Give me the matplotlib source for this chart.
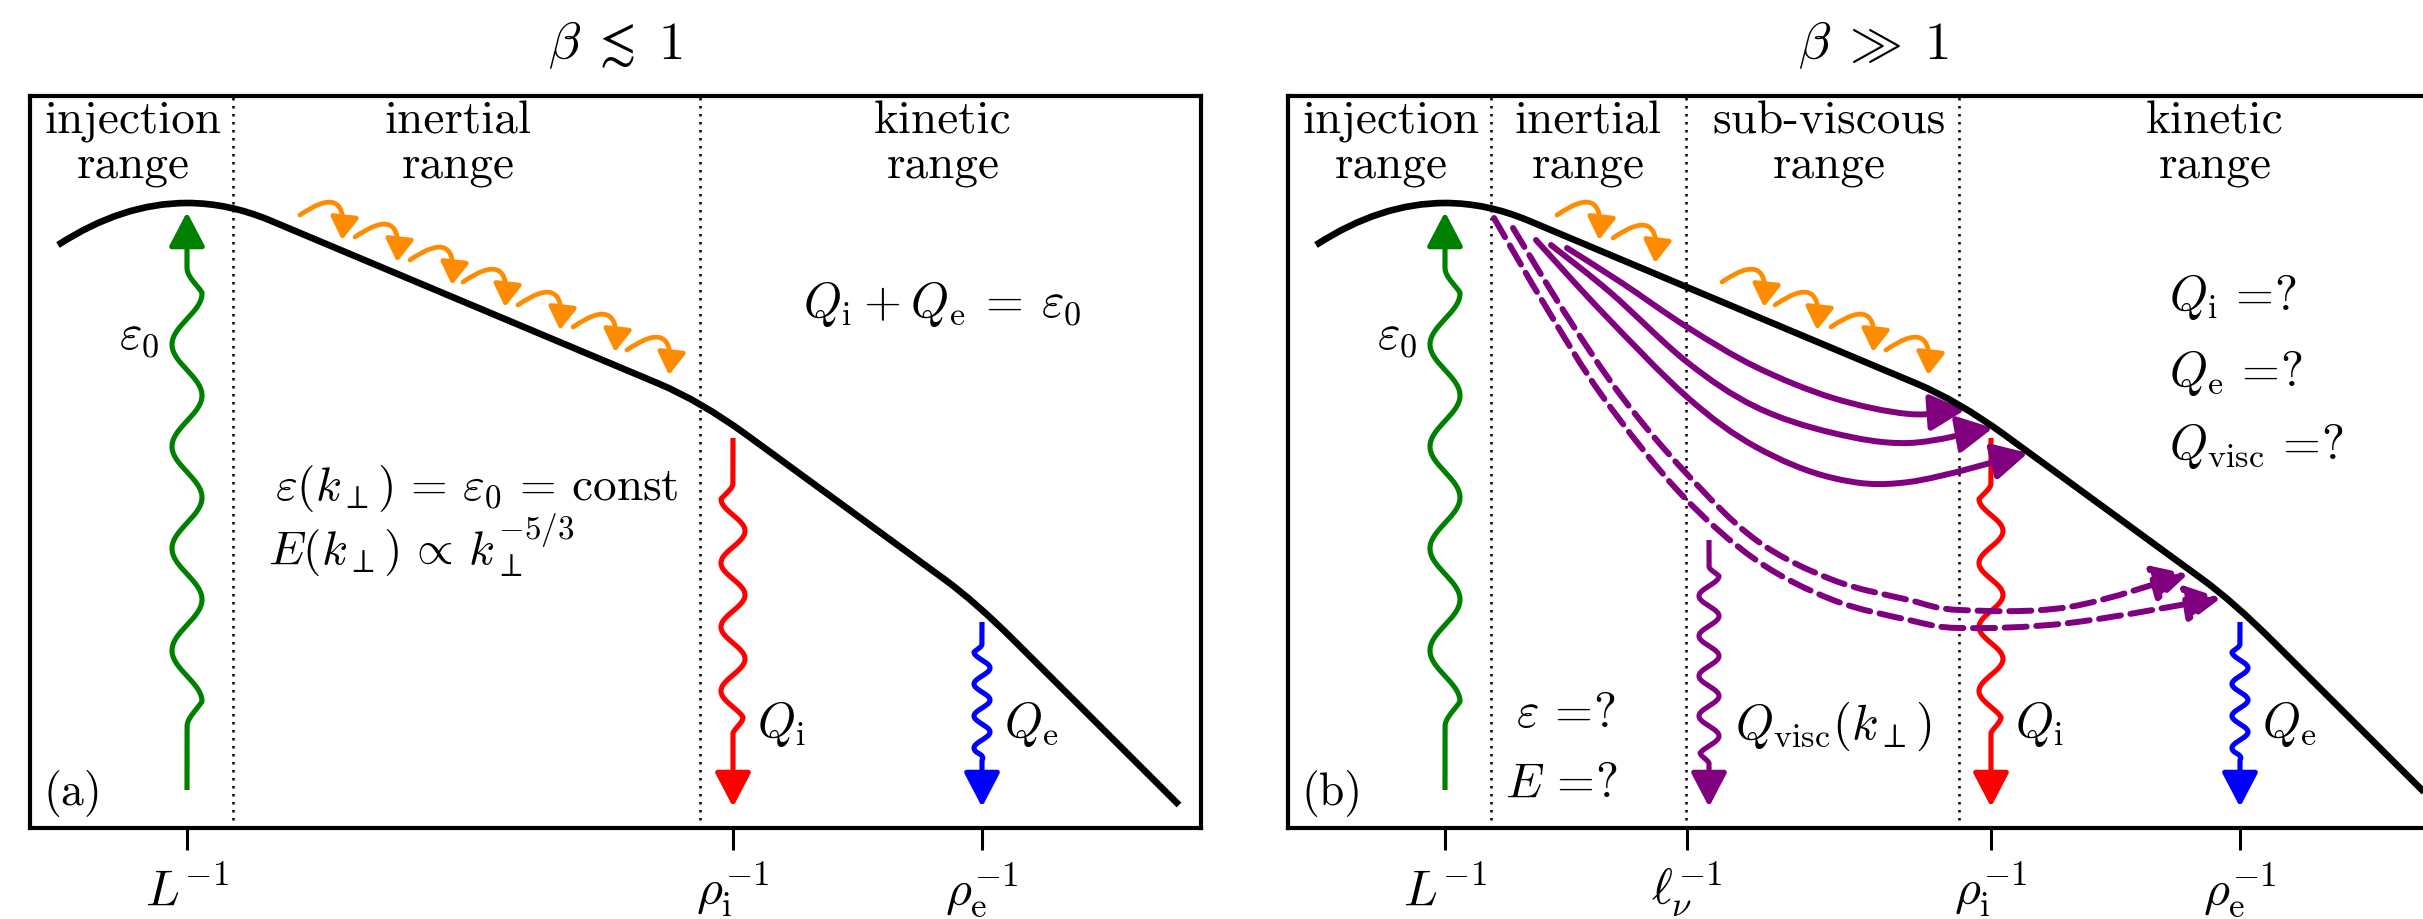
import numpy as np
import matplotlib.pyplot as plt
from matplotlib.path import Path
from matplotlib.patches import FancyArrowPatch, PathPatch

plt.rcParams['mathtext.fontset'] = 'cm'
plt.rcParams['font.family'] = 'serif'
plt.rcParams['font.serif'] = ['cmr10', 'DejaVu Serif']
plt.rcParams['axes.unicode_minus'] = False

# panel size in sketch units (one unit ~ one output pixel), y grows downwards
W, H = 1171, 732

# wavenumber scales marked on the k axis
ticks_a = [157, 703, 952]
labels_a = [r'$L^{-1}$', r'$\rho_\mathrm{i}^{-1}$', r'$\rho_\mathrm{e}^{-1}$']
ticks_b = [157, 399, 703, 952]
labels_b = [r'$L^{-1}$', r'$\ell_\nu^{-1}$', r'$\rho_\mathrm{i}^{-1}$', r'$\rho_\mathrm{e}^{-1}$']

# range boundaries
bounds_a = [203, 670]
bounds_b = [203, 398, 671]

# range names
headers_a = ['injection\nrange', 'inertial\nrange', 'kinetic\nrange']
headers_a_x = [103, 428, 913]
headers_b = ['injection\nrange', 'inertial\nrange', 'sub-viscous\nrange', 'kinetic\nrange']
headers_b_x = [103.5, 300, 541.5, 927]

# sketched spectrum E(k): knots of a bezier path
M, C3, L2 = Path.MOVETO, Path.CURVE3, Path.LINETO
spec_x = [28, 92.5, 157, 198.5, 240, 630, 670.5, 715, 915, 945.7, 985, 1149]
spec_y = [149, 107, 107, 107, 124.4, 288.2, 305.4, 337.7, 483.7, 506.1, 545.4, 709]
spec_codes = [M, C3, C3, C3, C3, L2, C3, C3, L2, C3, C3, L2]

# cascade arrows (start points)
casc_a_x = [270, 325, 380, 433, 488, 543, 597]
casc_a_y = [119, 141, 164, 186, 209, 231, 254]
casc_b_x = [269, 325, 434, 487, 543, 598]
casc_b_y = [119, 142, 186, 209, 231, 254]

# energy transfer to the kinetic range (panel b)
solid_x = [[279, 334, 399, 468, 545, 621, 677],
           [263, 323, 399, 468, 545, 621, 705],
           [248, 315, 399, 468, 545, 621, 740]]
solid_y = [[152, 187, 231, 271, 302, 318, 314],
           [149, 197, 266, 311, 337, 347, 332],
           [144, 217, 301, 351, 382, 386, 357]]
dash_x = [[225, 277, 334, 398, 468, 545, 621, 672, 781, 900],
          [206, 258, 315, 392, 468, 545, 621, 672, 781, 933]]
dash_y = [[132, 217, 301, 377, 444, 484, 504, 514, 511, 478],
          [122, 211, 301, 397, 464, 504, 524, 532, 527, 502]]

# wavy arrows: x, line start, tip, wave start, wave end, amplitude, period, first swing
inj = (157, 694, 116, 631, 171, 15, 102, 1)
heat_i = (703, 342, 711, 387, 637, 12, 64, -1)
heat_e = (952, 526, 711, 548, 664, 8, 32, -1)
heat_v = (421, 444, 711, 470, 667, 10, 40, 1)

HEAD = '-|>,head_length=1.05,head_width=0.55'


def smooth_path(xs, ys):
    p = np.column_stack([xs, ys]).astype(float)
    n = len(p)
    verts, codes = [p[0]], [Path.MOVETO]
    for i in range(n - 1):
        p0, p1, p2, p3 = p[max(i - 1, 0)], p[i], p[i + 1], p[min(i + 2, n - 1)]
        verts += [p1 + (p2 - p0) / 6, p2 - (p3 - p1) / 6, p2]
        codes += [Path.CURVE4] * 3
    return Path(verts, codes)


def wavy_arrow(ax, spec, color):
    x0, y0, tip, w0, w1, amp, period, first = spec
    sgn = 1 if tip > y0 else -1
    base = tip - sgn * 28
    y = np.linspace(y0, base, 1500)
    d = (y - w0) * sgn
    length = (w1 - w0) * sgn
    ramp = np.clip(np.minimum(d, length - d) / (period / 4), 0, 1)
    x = x0 + first * amp * np.sin(2 * np.pi * d / period) * ramp
    ax.plot(x, y, color=color, lw=3.7, solid_capstyle='butt')
    ax.annotate('', xy=(x0, tip), xytext=(x0, base - sgn * 3),
                arrowprops=dict(arrowstyle=HEAD, mutation_scale=20, color=color,
                                lw=3.7, shrinkA=0, shrinkB=0))


def cascade(ax, xs, ys):
    for x, y in zip(xs, ys):
        ax.add_patch(FancyArrowPatch((x, y), (x + 42, y + 25),
                                     connectionstyle='arc3,rad=-1.1',
                                     arrowstyle='-|>,head_length=0.8,head_width=0.5',
                                     mutation_scale=17, color='darkorange', lw=3.4,
                                     shrinkA=0, shrinkB=0))


fig = plt.figure(figsize=(24.23, 9.19), dpi=100)
axA = fig.add_axes([30 / 2423, 91 / 919, W / 2423, H / 919])
axB = fig.add_axes([1288 / 2423, 91 / 919, W / 2423, H / 919])

panels = [(axA, ticks_a, labels_a, bounds_a, headers_a, headers_a_x, r'$\beta\;\lesssim\;1$', '(a)'),
          (axB, ticks_b, labels_b, bounds_b, headers_b, headers_b_x, r'$\beta\;\gg\;1$', '(b)')]

for ax, ticks, labels, bounds, heads, heads_x, title, tag in panels:
    ax.set_xlim(0, W)
    ax.set_ylim(H, 0)
    for s in ax.spines.values():
        s.set_linewidth(3)
    ax.set_yticks([])
    ax.set_xticks(ticks)
    ax.tick_params(axis='x', length=15.8, width=2.2, direction='out', labelbottom=False)
    for x, lab in zip(ticks, labels):
        ax.text(x, 809, lab, ha='center', va='baseline', fontsize=36)
    for x in bounds:
        ax.axvline(x, color='k', lw=1.8, ls=(0, (1, 2.2)), zorder=0.5)
    for x, lab in zip(heads_x, heads):
        ax.text(x, 81.3, lab, ha='center', va='baseline', fontsize=34,
                linespacing=1.08, multialignment='center')
    ax.add_patch(PathPatch(Path(np.column_stack([spec_x, spec_y]), spec_codes),
                           facecolor='none', edgecolor='k', lw=4.8, zorder=3))
    ax.text(W / 2, -37, title, ha='center', va='baseline', fontsize=38)
    ax.text(14, 709, tag, ha='left', va='baseline', fontsize=33)
    wavy_arrow(ax, inj, 'green')
    wavy_arrow(ax, heat_i, 'red')
    wavy_arrow(ax, heat_e, 'blue')
    ax.text(109, 252, r'$\varepsilon_0$', ha='center', va='baseline', fontsize=35)
    ax.text(727, 641, r'$Q_\mathrm{i}$', ha='left', va='baseline', fontsize=35)
    ax.text(974, 641, r'$Q_\mathrm{e}$', ha='left', va='baseline', fontsize=35)

cascade(axA, casc_a_x, casc_a_y)
cascade(axB, casc_b_x, casc_b_y)

axA.text(912, 221, r'$Q_\mathrm{i} \:+\: Q_\mathrm{e} \:=\: \varepsilon_0$',
         ha='center', va='baseline', fontsize=35)
axA.text(245, 404, r'$\varepsilon(k_\perp) \,=\, \varepsilon_0 \,=\, \mathrm{const}$',
         ha='left', va='baseline', fontsize=34)
axA.text(238, 469, r'$E(k_\perp) \,\propto\, k_\perp^{-5/3}$',
         ha='left', va='baseline', fontsize=34)

wavy_arrow(axB, heat_v, 'purple')
for xs, ys in zip(solid_x, solid_y):
    axB.add_patch(FancyArrowPatch(path=smooth_path(xs, ys), arrowstyle=HEAD,
                                  mutation_scale=20, color='purple', lw=4.3, zorder=2))
for xs, ys in zip(dash_x, dash_y):
    axB.add_patch(FancyArrowPatch(path=smooth_path(xs, ys), arrowstyle=HEAD,
                                  mutation_scale=20, color='purple', lw=4.3, ls='--', zorder=2))

axB.text(447, 643, r'$Q_\mathrm{visc}(k_\perp)$', ha='left', va='baseline', fontsize=35)
axB.text(228, 631, r'$\varepsilon \,=\!?$', ha='left', va='baseline', fontsize=35)
axB.text(217, 701, r'$E \,=\!?$', ha='left', va='baseline', fontsize=35)
axB.text(881, 214, r'$Q_\mathrm{i} \,=\!?$', ha='left', va='baseline', fontsize=35)
axB.text(881, 290, r'$Q_\mathrm{e} \,=\!?$', ha='left', va='baseline', fontsize=35)
axB.text(881, 363, r'$Q_\mathrm{visc} \,=\!?$', ha='left', va='baseline', fontsize=35)

fig.savefig('out.png', dpi=100)
